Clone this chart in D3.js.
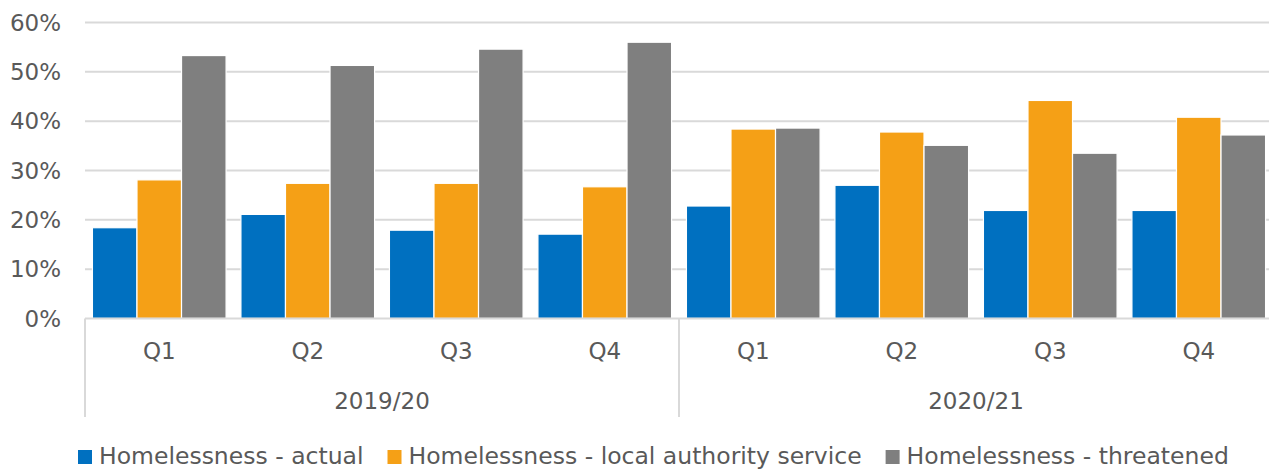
<!DOCTYPE html>
<html>
<head>
<meta charset="utf-8">
<script src="https://cdn.jsdelivr.net/npm/d3@7"></script>
<style>
  body { margin: 0; background: #fff; }
  text { font-family: "DejaVu Sans", sans-serif; fill: #595959; }
</style>
</head>
<body>
<script>
const years = ["2019/20", "2020/21"];
const quarters = ["Q1", "Q2", "Q3", "Q4"];
const seriesNames = ["Homelessness - actual", "Homelessness - local authority service", "Homelessness - threatened"];
const actual = [18.4, 21.1, 17.9, 17.1, 22.8, 27.0, 21.9, 21.9];
const localAuthority = [28.1, 27.4, 27.4, 26.7, 38.4, 37.8, 44.2, 40.8];
const threatened = [53.3, 51.3, 54.6, 56.0, 38.6, 35.1, 33.5, 37.2];
const yTicks = [0, 10, 20, 30, 40, 50, 60];
const colors = ["#0070c0", "#f5a016", "#7f7f7f"];

const width = 1269, height = 470;
const margin = {left: 85, right: -4, top: 22.5, bottom: 151.5};

const svg = d3.select("body").append("svg")
    .attr("width", width)
    .attr("height", height);

// one slot per year/quarter pair
const cats = [];
years.forEach(y => quarters.forEach(q => cats.push(y + "|" + q)));
const values = [actual, localAuthority, threatened];

const x = d3.scaleBand()
    .domain(cats)
    .range([margin.left, width - margin.right])
    .paddingInner(0.1)
    .paddingOuter(0.05);
const step = x.step();

const x1 = d3.scaleBand()
    .domain(d3.range(seriesNames.length))
    .range([0, x.bandwidth()]);

const y = d3.scaleLinear()
    .domain([0, 60])
    .range([height - margin.bottom, margin.top]);

// gridlines
svg.append("g").selectAll("line")
    .data(yTicks.slice(1))
    .join("line")
    .attr("x1", margin.left)
    .attr("x2", width)
    .attr("y1", d => y(d))
    .attr("y2", d => y(d))
    .attr("stroke", "#d9d9d9")
    .attr("stroke-width", 2);

// y labels
svg.append("g").selectAll("text")
    .data(yTicks)
    .join("text")
    .attr("x", 61)
    .attr("y", d => y(d))
    .attr("dy", "0.36em")
    .attr("text-anchor", "end")
    .style("font-size", "23px")
    .text(d => d + "%");

// bars
const groups = svg.append("g").selectAll("g")
    .data(cats)
    .join("g")
    .attr("transform", d => "translate(" + x(d) + ",0)");

groups.selectAll("rect")
    .data((d, i) => values.map((v, k) => ({k: k, v: v[i]})))
    .join("rect")
    .attr("x", d => x1(d.k))
    .attr("y", d => y(d.v))
    .attr("width", x1.bandwidth())
    .attr("height", d => y(0) - y(d.v))
    .attr("fill", d => colors[d.k])
    .attr("stroke", "#fff")
    .attr("stroke-width", 1.2);

// category axis
const axisY = y(0);
const x0 = margin.left;
svg.append("line")
    .attr("x1", x0).attr("x2", width)
    .attr("y1", axisY).attr("y2", axisY)
    .attr("stroke", "#d9d9d9").attr("stroke-width", 2);

const groupW = step * quarters.length;
svg.append("g").selectAll("line")
    .data(d3.range(years.length + 1))
    .join("line")
    .attr("x1", d => x0 + d * groupW)
    .attr("x2", d => x0 + d * groupW)
    .attr("y1", axisY)
    .attr("y2", 417)
    .attr("stroke", "#d9d9d9")
    .attr("stroke-width", 2);

svg.append("g").selectAll("text")
    .data(cats)
    .join("text")
    .attr("x", d => x(d) + x.bandwidth() / 2)
    .attr("y", 351)
    .attr("dy", "0.36em")
    .attr("text-anchor", "middle")
    .style("font-size", "23px")
    .text(d => d.split("|")[1]);

svg.append("g").selectAll("text")
    .data(years)
    .join("text")
    .attr("x", (d, i) => x0 + (i + 0.5) * groupW)
    .attr("y", 401)
    .attr("dy", "0.36em")
    .attr("text-anchor", "middle")
    .style("font-size", "23px")
    .text(d => d);

// legend
const legend = svg.append("g");
let lx = 78;
seriesNames.forEach((name, k) => {
    legend.append("rect")
        .attr("x", lx).attr("y", 450)
        .attr("width", 14).attr("height", 14)
        .attr("fill", colors[k]);
    const t = legend.append("text")
        .attr("x", lx + 21)
        .attr("y", 456)
        .attr("dy", "0.36em")
        .style("font-size", "23.5px")
        .text(name);
    lx += 21 + t.node().getComputedTextLength() + 24;
});
</script>
</body>
</html>
